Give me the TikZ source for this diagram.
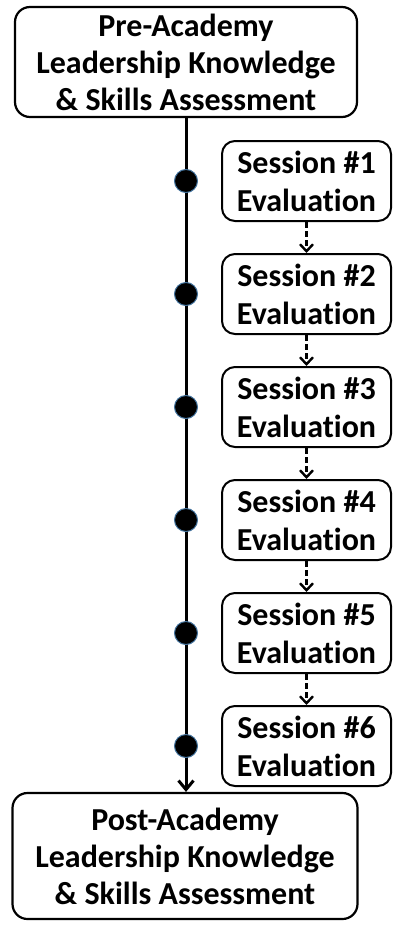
\documentclass[tikz,border=0pt]{standalone}
\usepackage{fontspec}
\setmainfont{Carlito}[Ligatures=CommonOff]
\usepackage{xcolor}
\usetikzlibrary{arrows.meta, positioning}
\definecolor{dotedge}{HTML}{41719C}
\tikzset{
assess/.style={
draw=black,
rounded corners=15pt,
line width=2.2pt,
minimum width=342pt,
minimum height=110pt,
font=\fontsize{32}{37}\selectfont\bfseries,
align=center,
inner sep=0pt
},
session/.style={
draw=black,
rounded corners=13pt,
line width=2pt,
minimum width=169pt,
minimum height=80pt,
font=\fontsize{32}{38}\selectfont\bfseries,
align=center,
inner sep=0pt
},
dot/.style={
circle,
fill=black,
draw=dotedge,
line width=1pt,
minimum size=23pt,
inner sep=0pt
},
timeline/.style={
-{Straight Barb[length=9pt,width=15pt]},
line width=3pt
},
nextarrow/.style={
-{Straight Barb[length=7pt,width=13pt]},
line width=2.4pt,
dash pattern=on 6pt off 3pt
}
}

\begin{document}
\begin{tikzpicture}[x=1pt, y=1pt, node distance=31pt]
\useasboundingbox (0,0) rectangle (393,-926);

\node[assess] (pre) at (186,-62) {Pre-Academy\\Leadership Knowledge\\\& Skills Assessment};
\node[assess, minimum width=345pt, minimum height=126pt] (post) at (185,-856) {Post-Academy\\Leadership Knowledge\\\& Skills Assessment};

\node[session] (s1) at (306.5,-181) {Session \#1\\Evaluation};
\node[session, below=of s1] (s2) {Session \#2\\Evaluation};
\node[session, below=of s2] (s3) {Session \#3\\Evaluation};
\node[session, below=of s3] (s4) {Session \#4\\Evaluation};
\node[session, below=of s4] (s5) {Session \#5\\Evaluation};
\node[session, below=of s5] (s6) {Session \#6\\Evaluation};

\draw[nextarrow] (s1) -- (s2);
\draw[nextarrow] (s2) -- (s3);
\draw[nextarrow] (s3) -- (s4);
\draw[nextarrow] (s4) -- (s5);
\draw[nextarrow] (s5) -- (s6);

\draw[timeline] (pre.south) -- (pre.south |- post.north);

\node[dot] (d1) at (pre.south |- s1) {};
\node[dot] (d2) at (pre.south |- s2) {};
\node[dot] (d3) at (pre.south |- s3) {};
\node[dot] (d4) at (pre.south |- s4) {};
\node[dot] (d5) at (pre.south |- s5) {};
\node[dot] (d6) at (pre.south |- s6) {};

\end{tikzpicture}
\end{document}
